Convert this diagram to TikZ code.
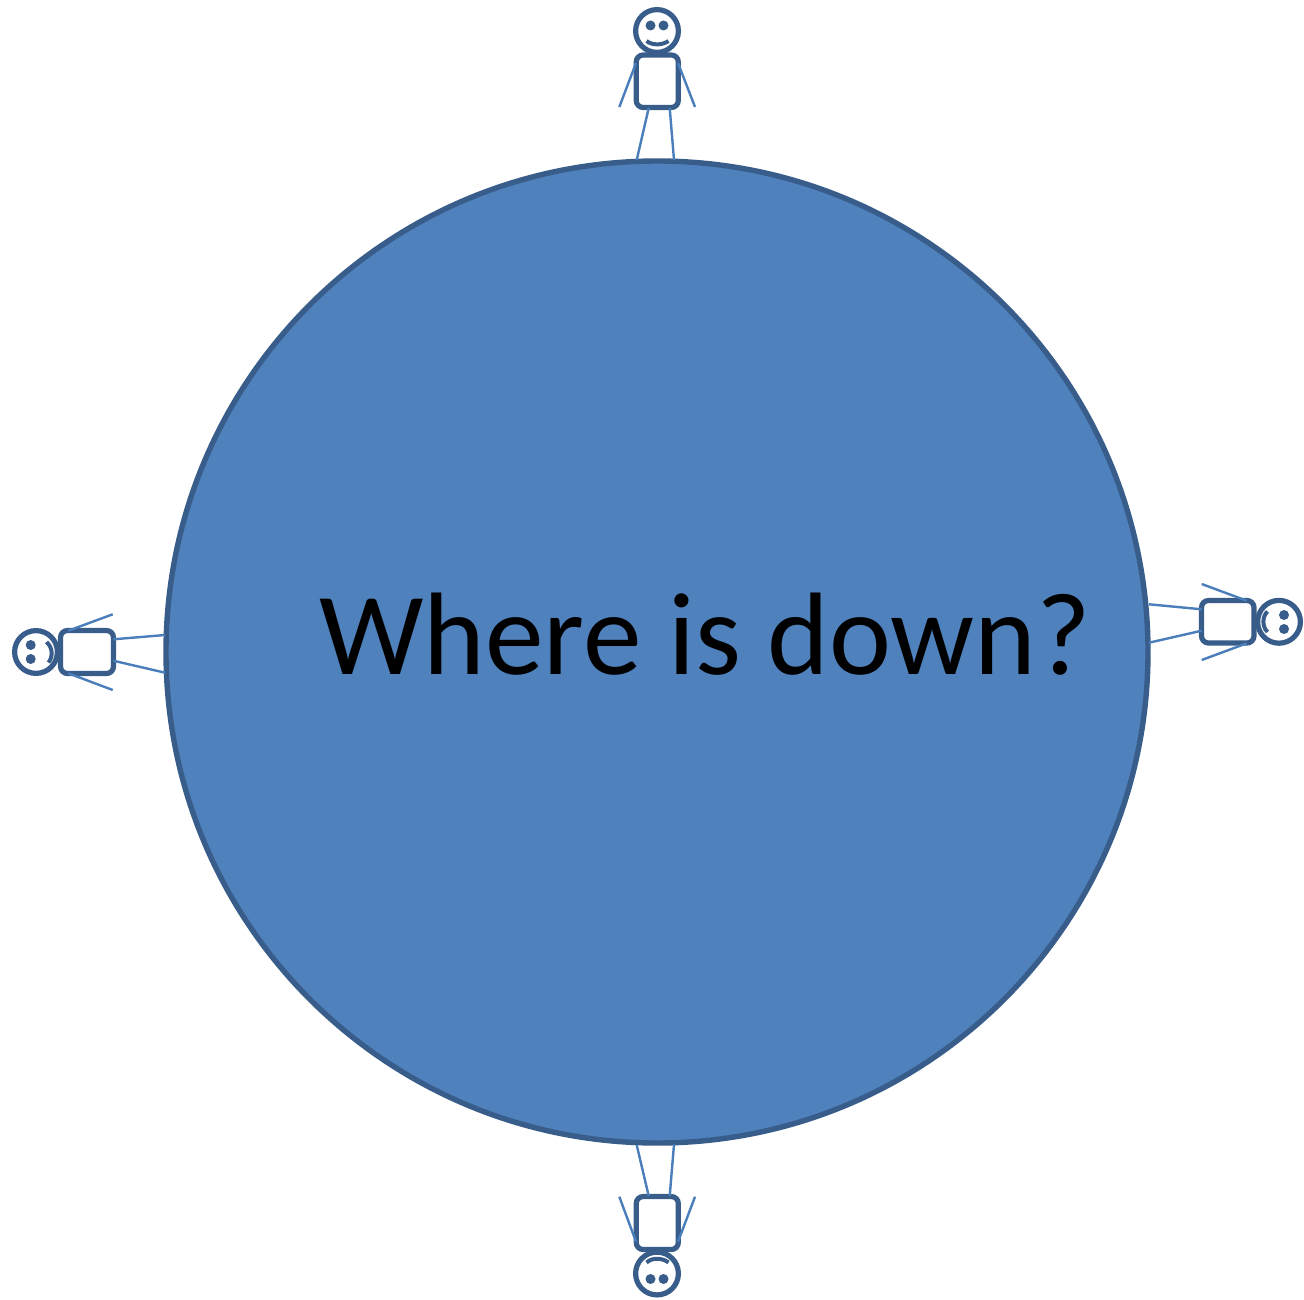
\documentclass[tikz,border=0pt]{standalone}
\usepackage{fontspec}
\setmainfont{Carlito}
\definecolor{shapefill}{HTML}{4F81BD}
\definecolor{shapeline}{HTML}{385D8A}
\definecolor{limbline}{HTML}{4A7EBB}
\begin{document}
\begin{tikzpicture}[x=0.5pt,y=-0.5pt,
  outline/.style={draw=shapeline,line width=2.6pt},
  bodybox/.style={outline,fill=white,rounded corners=3.5pt},
  headring/.style={outline,fill=white},
  eyedot/.style={fill=shapeline,draw=none},
  mouth/.style={draw=shapeline,line width=2pt},
  limb/.style={draw=limbline,line width=1.2pt}]
\useasboundingbox (0,0) rectangle (1304,1299);
% planet
\node[circle,draw=shapeline,line width=2.7pt,fill=shapefill,minimum size=491pt,inner sep=0pt,outer sep=0pt] (planet) at (657,652) {};
\node[anchor=base west,inner sep=0pt,font=\fontsize{58.7}{60}\selectfont,text=black] (question) at (319,674) {Where is down?};
% top person
\draw[headring] (657,31) circle[radius=21.4];
\draw[bodybox] (636.2,55) rectangle (678.3,107.5);
\fill[eyedot] (650.5,25.5) circle[radius=5] (663.5,25.5) circle[radius=5];
\draw[mouth] (646.5,41) .. controls (652,45.5) and (662,45.5) .. (668.5,41);
\draw[limb] (636,63) -- (619.3,107);
\draw[limb] (678,63) -- (695,107);
\draw[limb] (648.7,108) -- (636.7,160);
\draw[limb] (669.7,108) -- (674,160);
% bottom person
\draw[headring] (657,1273.5) circle[radius=21.4];
\draw[bodybox] (636.2,1196.5) rectangle (678.3,1249.5);
\fill[eyedot] (650.5,1279) circle[radius=5] (663.5,1279) circle[radius=5];
\draw[mouth] (646.5,1262.5) .. controls (652,1257.5) and (662,1257.5) .. (668.5,1262.5);
\draw[limb] (636,1241.7) -- (619.3,1196.7);
\draw[limb] (678,1241.7) -- (695,1196.7);
\draw[limb] (648.7,1196) -- (636.7,1145);
\draw[limb] (669.7,1196) -- (674,1144.5);
% left person
\draw[headring] (36,652) circle[radius=21.4];
\draw[bodybox] (60.5,630.5) rectangle (113.5,673.5);
\fill[eyedot] (30.7,645) circle[radius=5] (30.7,659) circle[radius=5];
\draw[mouth] (46.5,642) .. controls (53,647.5) and (53,657) .. (48.5,662.5);
\draw[limb] (68.3,630.7) -- (112.7,614.3);
\draw[limb] (68.3,673.3) -- (112.7,690);
\draw[limb] (113.3,639.3) -- (165,635);
\draw[limb] (113.3,660.7) -- (165,672.7);
% right person
\draw[headring] (1279,621.8) circle[radius=21.4];
\draw[bodybox] (1201.5,600.5) rectangle (1254,643);
\fill[eyedot] (1284,615) circle[radius=5] (1284,629) circle[radius=5];
\draw[mouth] (1267.5,611.5) .. controls (1262,616.5) and (1262,626.5) .. (1267.5,632);
\draw[limb] (1246.7,600.7) -- (1201.7,584);
\draw[limb] (1246.7,643.3) -- (1201.7,660);
\draw[limb] (1201.7,609.3) -- (1149,604.3);
\draw[limb] (1201.7,630.7) -- (1149,642.7);
\end{tikzpicture}
\end{document}
